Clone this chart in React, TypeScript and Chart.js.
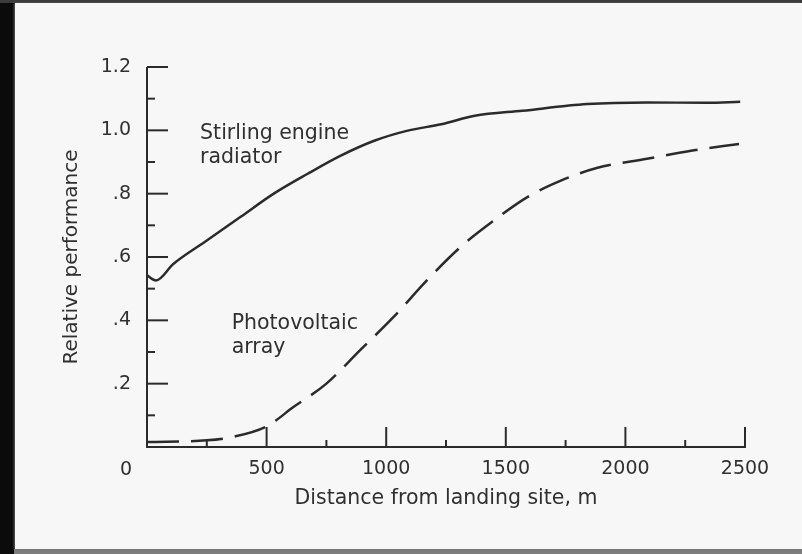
import React, { useEffect, useRef } from 'react';
import { Chart, registerables } from 'chart.js';

Chart.register(...registerables);

// ---- data ----
const stirlingX = [0, 38, 110, 250, 390, 530, 670, 810, 950, 1090, 1230, 1370, 1570, 1840, 2090, 2340, 2480];
const stirlingY = [0.542, 0.526, 0.578, 0.652, 0.726, 0.8, 0.862, 0.92, 0.967, 0.999, 1.019, 1.046, 1.062, 1.083, 1.088, 1.087, 1.09];
const pvX = [0, 250, 360, 500, 612, 750, 890, 1030, 1170, 1310, 1450, 1590, 1730, 1880, 2090, 2280, 2475];
const pvY = [0.016, 0.021, 0.032, 0.065, 0.126, 0.2, 0.305, 0.41, 0.526, 0.631, 0.715, 0.789, 0.841, 0.881, 0.91, 0.936, 0.957];

const xTicks = [0, 500, 1000, 1500, 2000, 2500];
const xTickLabels = ['0', '500', '1000', '1500', '2000', '2500'];
const yTicks = [0, 0.2, 0.4, 0.6, 0.8, 1.0, 1.2];
const yTickLabels = ['', '.2', '.4', '.6', '.8', '1.0', '1.2'];

const xTitle = 'Distance from landing site, m';
const yTitle = 'Relative performance';
const stirlingLabel = ['Stirling engine', 'radiator'];
const pvLabel = ['Photovoltaic', 'array'];

const INK = '#2b2b2b';
const TEXT = '#303030';
const FONT = '"DejaVu Sans", "Liberation Sans", Arial, sans-serif';

const paperAxes = {
  id: 'paperAxes',
  afterDatasetsDraw(chart: any) {
    const { ctx } = chart;
    const xs = chart.scales.x;
    const ys = chart.scales.y;
    const x0 = xs.getPixelForValue(xTicks[0]);
    const xEnd = xs.getPixelForValue(xTicks[xTicks.length - 1]);
    const y0 = ys.getPixelForValue(yTicks[0]);
    const yTop = ys.getPixelForValue(yTicks[yTicks.length - 1]);
    const seg = (a: number, b: number, c: number, d: number) => {
      ctx.beginPath();
      ctx.moveTo(a, b);
      ctx.lineTo(c, d);
      ctx.stroke();
    };
    ctx.save();
    ctx.strokeStyle = INK;
    ctx.lineWidth = 2;
    ctx.lineCap = 'butt';
    ctx.beginPath();
    ctx.moveTo(x0, yTop);
    ctx.lineTo(x0, y0);
    ctx.lineTo(xEnd + 1, y0);
    ctx.stroke();
    for (let i = 1; i < xTicks.length; i++) {
      const px = xs.getPixelForValue(xTicks[i]);
      seg(px, y0, px, y0 - 20);
      const pm = xs.getPixelForValue((xTicks[i - 1] + xTicks[i]) / 2);
      seg(pm, y0, pm, y0 - 7);
    }
    for (let i = 1; i < yTicks.length; i++) {
      const py = ys.getPixelForValue(yTicks[i]);
      seg(x0, py, x0 + 21, py);
      const pm = ys.getPixelForValue((yTicks[i - 1] + yTicks[i]) / 2);
      seg(x0, pm, x0 + 8, pm);
    }
    // shared origin label
    ctx.fillStyle = TEXT;
    ctx.font = `19px ${FONT}`;
    ctx.textAlign = 'center';
    ctx.textBaseline = 'middle';
    ctx.fillText(xTickLabels[0], x0 - 21, y0 + 23);
    // curve annotations
    ctx.font = `20.5px ${FONT}`;
    ctx.textAlign = 'left';
    ctx.textBaseline = 'alphabetic';
    const sx = xs.getPixelForValue(222);
    const sy = ys.getPixelForValue(0.973);
    stirlingLabel.forEach((t, i) => ctx.fillText(t, sx, sy + i * 24.5));
    const px = xs.getPixelForValue(354);
    const py = ys.getPixelForValue(0.3735);
    pvLabel.forEach((t, i) => ctx.fillText(t, px, py + i * 24.5));
    ctx.restore();
  },
};

export default function App() {
  const ref = useRef<HTMLCanvasElement | null>(null);
  useEffect(() => {
    if (!ref.current) return;
    const chart = new Chart(ref.current, {
      type: 'line',
      data: {
        datasets: [
          {
            label: 'Stirling engine radiator',
            data: stirlingX.map((x, i) => ({ x, y: stirlingY[i] })),
            borderColor: INK,
            borderWidth: 2.5,
            pointRadius: 0,
            cubicInterpolationMode: 'monotone',
            fill: false,
          },
          {
            label: 'Photovoltaic array',
            data: pvX.map((x, i) => ({ x, y: pvY[i] })),
            borderColor: INK,
            borderWidth: 2.5,
            borderDash: [32, 12],
            borderCapStyle: 'butt',
            pointRadius: 0,
            cubicInterpolationMode: 'monotone',
            fill: false,
          },
        ],
      },
      options: {
        animation: false,
        responsive: false,
        devicePixelRatio: 1,
        layout: { padding: { left: 0, right: 57, top: 67, bottom: 0 } },
        plugins: { legend: { display: false }, tooltip: { enabled: false } },
        scales: {
          x: {
            type: 'linear',
            min: xTicks[0],
            max: xTicks[xTicks.length - 1],
            grid: { display: false, drawTicks: false },
            border: { display: false },
            ticks: {
              stepSize: 500,
              padding: 11,
              color: TEXT,
              font: { family: FONT, size: 19 },
              maxRotation: 0,
              callback: (v: any) => {
                const i = xTicks.indexOf(Number(v));
                return i <= 0 ? '' : xTickLabels[i];
              },
            },
            title: {
              display: true,
              text: xTitle,
              color: TEXT,
              font: { family: FONT, size: 20.5 },
              padding: { top: 0, bottom: 43 },
            },
            afterFit: (s: any) => {
              s.height = 107;
            },
          },
          y: {
            type: 'linear',
            min: yTicks[0],
            max: yTicks[yTicks.length - 1],
            grid: { display: false, drawTicks: false },
            border: { display: false },
            ticks: {
              stepSize: 0.2,
              padding: 16,
              color: TEXT,
              font: { family: FONT, size: 19 },
              callback: (v: any) => {
                const i = Math.round(Number(v) * 5);
                return yTickLabels[i] ?? '';
              },
            },
            title: {
              display: true,
              text: yTitle,
              color: TEXT,
              font: { family: FONT, size: 20 },
              padding: { top: 60, bottom: 0 },
            },
            afterFit: (s: any) => {
              s.width = 147;
            },
          },
        },
      },
      plugins: [paperAxes],
    });
    return () => chart.destroy();
  }, []);

  return (
    <div style={{ position: 'fixed', left: 0, top: 0, width: 802, height: 554, background: '#0b0b0b', overflow: 'hidden' }}>
      <div style={{ position: 'absolute', left: 0, top: 0, width: 802, height: 3, background: '#3c3c3c' }} />
      <div style={{ position: 'absolute', left: 14, top: 549, width: 788, height: 5, background: '#7d7d7d' }} />
      <div style={{ position: 'absolute', left: 15, top: 3, width: 787, height: 546, background: '#f7f7f7', boxShadow: '-1px 0 2px #666' }} />
      <canvas ref={ref} width={802} height={554} style={{ position: 'absolute', left: 0, top: 0, width: 802, height: 554 }} />
    </div>
  );
}
